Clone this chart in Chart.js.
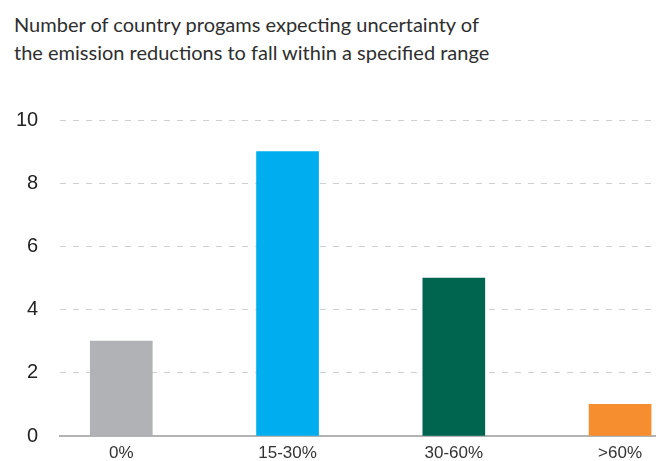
<!DOCTYPE html>
<html>
<head>
<meta charset="utf-8">
<script src="https://cdn.jsdelivr.net/npm/chart.js@4"></script>
<style>
  html, body { margin: 0; padding: 0; background: #fff; overflow: hidden; }
  #wrap { position: relative; width: 657px; height: 461px; overflow: hidden; }
  #titulo {
    position: absolute; left: 14px; top: 10px;
    font-family: Lato, "Noto Sans", sans-serif; font-size: 20px; line-height: 28px;
    color: #2e2e2e;
  }
  canvas { position: absolute; left: 0; top: 0; }
</style>
</head>
<body>
<div id="wrap">
  <div id="titulo">Number of country progams expecting uncertainty of<br>the emission reductions to fall within a specified range</div>
  <canvas id="grafica" width="657" height="470"></canvas>
</div>
<script>
// datos de la gráfica
const categorias = ["0%", "15-30%", "30-60%", ">60%"];
const valores = [3, 9, 5, 1];
const colores = ["#b1b2b5", "#00aeef", "#00654f", "#f68d2e"];
const ticksY = [0, 2, 4, 6, 8, 10];

new Chart(document.getElementById("grafica"), {
    type: "bar",
    data: {
        datasets: [{
            data: valores.map((v, i) => ({ x: i, y: v })),
            backgroundColor: colores,
            barThickness: 62
        }]
    },
    options: {
        responsive: false,
        animation: false,
        layout: { padding: { top: 120, left: -6, right: 2, bottom: -15 } },
        plugins: {
            legend: { display: false },
            tooltip: { enabled: false }
        },
        scales: {
            x: {
                type: "linear",
                offset: false,
                min: -0.367,
                max: 3.21,
                grid: { display: false, drawTicks: false },
                border: { display: true, color: "#b3b3b3", width: 2 },
                ticks: {
                    stepSize: 1,
                    includeBounds: false,
                    autoSkip: false,
                    maxRotation: 0,
                    padding: 7,
                    color: "#333",
                    font: { family: "Liberation Sans", size: 17 },
                    callback: v => Number.isInteger(v) ? categorias[v] : ""
                }
            },
            y: {
                min: 0,
                max: 10,
                afterBuildTicks: axis => { axis.ticks = ticksY.map(v => ({ value: v })); },
                border: { display: false, dash: [6, 7] },
                grid: {
                    color: ctx => ctx.tick.value === 0 ? "rgba(0,0,0,0)" : "#cfcfcf",
                    lineWidth: 1,
                    drawTicks: false
                },
                ticks: {
                    padding: 22,
                    color: "#222",
                    font: { family: "Liberation Sans", size: 20 }
                }
            }
        }
    }
});
</script>
</body>
</html>
